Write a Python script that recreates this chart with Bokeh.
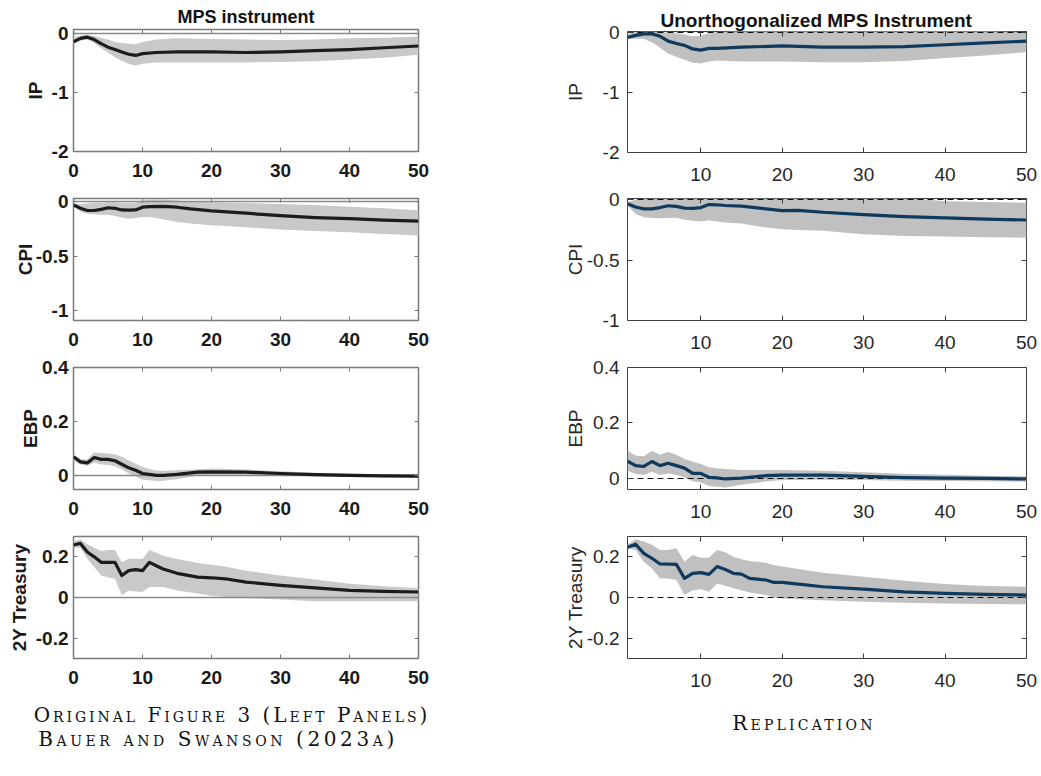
from bokeh.plotting import figure
from bokeh.models import Range1d, LinearAxis, FixedTicker, Div
from bokeh.layouts import column, row
from bokeh.embed import file_html
from bokeh.resources import INLINE

# ---------------- data: left panels (original, horizons 0..50) ----------------
L_IP_h = [0, 1, 2, 3, 4, 5, 6, 7, 8, 9, 10, 12, 15, 20, 25, 30, 35, 40, 45, 50]
L_IP_irf = [-0.14, -0.08, -0.06, -0.10, -0.17, -0.23, -0.27, -0.31, -0.35, -0.37, -0.34, -0.32, -0.31, -0.31, -0.32, -0.31, -0.29, -0.27, -0.24, -0.21]
L_IP_hi = [-0.06, -0.03, -0.02, -0.04, -0.07, -0.10, -0.14, -0.16, -0.17, -0.18, -0.14, -0.10, -0.08, -0.09, -0.10, -0.11, -0.10, -0.08, -0.07, -0.05]
L_IP_lo = [-0.17, -0.12, -0.10, -0.16, -0.25, -0.32, -0.40, -0.46, -0.51, -0.54, -0.51, -0.49, -0.49, -0.49, -0.49, -0.48, -0.47, -0.44, -0.41, -0.36]

L_CPI_h = [0, 1, 2, 3, 4, 5, 6, 7, 8, 9, 10, 11, 13, 15, 17, 20, 25, 30, 35, 40, 45, 50]
L_CPI_irf = [-0.03, -0.06, -0.08, -0.08, -0.07, -0.055, -0.06, -0.075, -0.077, -0.075, -0.05, -0.045, -0.042, -0.05, -0.065, -0.083, -0.105, -0.128, -0.145, -0.155, -0.168, -0.177]
L_CPI_hi = [-0.02, -0.02, -0.015, -0.01, -0.008, -0.005, -0.005, -0.008, -0.01, -0.008, 0.01, 0.02, 0.02, 0.012, 0.0, -0.005, -0.012, -0.02, -0.03, -0.045, -0.06, -0.077]
L_CPI_lo = [-0.04, -0.09, -0.11, -0.115, -0.12, -0.12, -0.13, -0.145, -0.155, -0.15, -0.14, -0.14, -0.16, -0.185, -0.2, -0.215, -0.235, -0.255, -0.268, -0.28, -0.295, -0.31]

L_EBP_h = [0, 1, 2, 3, 4, 5, 6, 7, 8, 9, 10, 11, 12, 13, 15, 18, 20, 25, 30, 35, 40, 45, 50]
L_EBP_irf = [0.071, 0.052, 0.048, 0.068, 0.061, 0.061, 0.056, 0.043, 0.030, 0.021, 0.009, 0.006, 0.002, 0.002, 0.006, 0.014, 0.015, 0.014, 0.009, 0.005, 0.002, 0.0, -0.001]
L_EBP_hi = [0.077, 0.062, 0.062, 0.087, 0.085, 0.083, 0.080, 0.071, 0.058, 0.045, 0.034, 0.026, 0.020, 0.019, 0.021, 0.025, 0.027, 0.024, 0.017, 0.012, 0.009, 0.006, 0.005]
L_EBP_lo = [0.058, 0.042, 0.038, 0.050, 0.042, 0.040, 0.036, 0.025, 0.009, -0.002, -0.014, -0.016, -0.019, -0.018, -0.012, 0.002, 0.004, 0.004, 0.002, -0.001, -0.004, -0.005, -0.006]

L_2Y_h = [0, 1, 2, 3, 4, 5, 6, 7, 8, 9, 10, 11, 12, 13, 15, 18, 20, 22, 25, 30, 35, 40, 45, 50]
L_2Y_irf = [0.258, 0.266, 0.224, 0.200, 0.173, 0.173, 0.173, 0.108, 0.132, 0.137, 0.132, 0.173, 0.156, 0.140, 0.119, 0.100, 0.097, 0.092, 0.076, 0.060, 0.047, 0.035, 0.030, 0.027]
L_2Y_hi = [0.277, 0.285, 0.262, 0.245, 0.229, 0.234, 0.234, 0.173, 0.190, 0.190, 0.189, 0.234, 0.220, 0.205, 0.189, 0.170, 0.161, 0.152, 0.132, 0.108, 0.088, 0.068, 0.055, 0.047]
L_2Y_lo = [0.245, 0.245, 0.190, 0.150, 0.108, 0.100, 0.092, 0.011, 0.035, 0.030, 0.027, 0.052, 0.052, 0.052, 0.035, 0.020, 0.008, 0.003, -0.002, -0.010, -0.018, -0.018, -0.018, -0.018]

# ---------------- data: right panels (replication, horizons 1..50) ----------------
R_IP_h = [1, 2, 3, 4, 5, 6, 7, 8, 9, 10, 11, 12, 15, 20, 25, 30, 35, 40, 45, 50]
R_IP_irf = [-0.09, -0.055, -0.03, -0.03, -0.07, -0.15, -0.19, -0.22, -0.28, -0.30, -0.27, -0.27, -0.25, -0.23, -0.25, -0.25, -0.24, -0.21, -0.18, -0.15]
R_IP_hi = [-0.03, 0.0, 0.01, 0.01, 0.0, -0.01, -0.02, -0.04, -0.07, -0.06, -0.02, 0.0, 0.02, 0.03, 0.03, 0.03, 0.03, 0.03, 0.02, 0.0]
R_IP_lo = [-0.11, -0.11, -0.11, -0.17, -0.26, -0.36, -0.41, -0.46, -0.51, -0.52, -0.49, -0.47, -0.49, -0.49, -0.50, -0.50, -0.48, -0.43, -0.39, -0.33]

R_CPI_h = [1, 2, 3, 4, 5, 6, 7, 8, 9, 10, 11, 12, 13, 15, 18, 20, 22, 25, 30, 35, 38, 40, 45, 50]
R_CPI_irf = [-0.034, -0.06, -0.076, -0.076, -0.065, -0.05, -0.055, -0.07, -0.072, -0.065, -0.04, -0.042, -0.048, -0.053, -0.076, -0.09, -0.088, -0.104, -0.123, -0.14, -0.147, -0.151, -0.16, -0.168]
R_CPI_hi = [-0.02, 0.0, 0.01, 0.01, 0.01, 0.01, 0.01, 0.01, 0.01, 0.01, 0.01, 0.01, 0.01, 0.01, 0.01, 0.01, 0.01, 0.01, 0.01, 0.01, 0.0, -0.012, -0.02, -0.025]
R_CPI_lo = [-0.048, -0.118, -0.146, -0.152, -0.154, -0.152, -0.15, -0.165, -0.175, -0.18, -0.17, -0.18, -0.188, -0.196, -0.23, -0.244, -0.25, -0.258, -0.286, -0.3, -0.303, -0.305, -0.31, -0.314]

R_EBP_h = [1, 2, 3, 4, 5, 6, 7, 8, 9, 10, 11, 12, 13, 15, 18, 20, 25, 30, 35, 40, 45, 50]
R_EBP_irf = [0.062, 0.046, 0.043, 0.061, 0.046, 0.055, 0.046, 0.037, 0.018, 0.018, 0.004, 0.002, -0.002, 0.001, 0.010, 0.012, 0.012, 0.007, 0.003, 0.001, 0.0, -0.002]
R_EBP_hi = [0.100, 0.083, 0.080, 0.100, 0.085, 0.095, 0.085, 0.071, 0.060, 0.052, 0.040, 0.036, 0.034, 0.030, 0.030, 0.030, 0.028, 0.022, 0.017, 0.013, 0.010, 0.007]
R_EBP_lo = [0.028, 0.016, 0.012, 0.024, 0.012, 0.018, 0.012, 0.004, -0.010, -0.015, -0.027, -0.030, -0.033, -0.023, -0.011, -0.006, -0.005, -0.006, -0.008, -0.009, -0.010, -0.011]

R_2Y_h = [1, 2, 3, 4, 5, 6, 7, 8, 9, 10, 11, 12, 13, 14, 15, 16, 18, 19, 20, 22, 25, 30, 35, 40, 45, 50]
R_2Y_irf = [0.247, 0.262, 0.217, 0.193, 0.165, 0.164, 0.163, 0.094, 0.119, 0.122, 0.114, 0.152, 0.138, 0.119, 0.115, 0.094, 0.086, 0.074, 0.074, 0.066, 0.053, 0.041, 0.028, 0.020, 0.015, 0.012]
R_2Y_hi = [0.259, 0.287, 0.275, 0.260, 0.234, 0.234, 0.242, 0.176, 0.209, 0.195, 0.195, 0.234, 0.222, 0.200, 0.188, 0.180, 0.171, 0.158, 0.152, 0.140, 0.122, 0.102, 0.082, 0.066, 0.056, 0.053]
R_2Y_lo = [0.242, 0.234, 0.176, 0.143, 0.094, 0.094, 0.086, 0.012, 0.036, 0.041, 0.028, 0.069, 0.058, 0.045, 0.036, 0.025, 0.012, 0.0, -0.005, -0.008, -0.013, -0.021, -0.026, -0.030, -0.032, -0.033]

# ---------------- axes / labels ----------------
L_XTICKS = [0, 10, 20, 30, 40, 50]
R_XTICKS = [10, 20, 30, 40, 50]
IP_YTICKS, IP_YLABELS = [-2, -1, 0], ["-2", "-1", "0"]
CPI_YTICKS, CPI_YLABELS = [-1, -0.5, 0], ["-1", "-0.5", "0"]
EBP_YTICKS, EBP_YLABELS = [0, 0.2, 0.4], ["0", "0.2", "0.4"]
TY_YTICKS, TY_YLABELS = [-0.2, 0, 0.2], ["-0.2", "0", "0.2"]
VARS = ["IP", "CPI", "EBP", "2Y Treasury"]
LEFT_TITLE = "MPS instrument"
RIGHT_TITLE = "Unorthogonalized MPS Instrument"
CAPTION_LEFT_1 = "Original Figure 3 (Left Panels)"
CAPTION_LEFT_2 = "Bauer and Swanson (2023a)"
CAPTION_RIGHT = "Replication"

FONT = "Liberation Sans"

LEFT = dict(width=438, bl=73, br=20, box="#7a7a7a", box_w=1.5, tick_in=4,
            font_style="bold", tick_color="#1a1a1a", band="#c9c9c9", line="#1c1c1c",
            zero_color="#8a8a8a", zero_dash="solid", zero_w=1.5,
            x_standoff=12, y_standoff=5, xr=(0, 50), xticks=L_XTICKS,
            title_size="18px")
RIGHT = dict(width=603, bl=189, br=15, box="#404040", box_w=1, tick_in=5,
             font_style="normal", tick_color="#262626", band="#c0c0c0", line="#0f3a5e",
             zero_color="#111111", zero_dash="6 4", zero_w=1,
             x_standoff=15, y_standoff=8, xr=(1, 50), xticks=R_XTICKS,
             title_size="19px")


def make_panel(s, h, irf, lo, hi, yr, yticks, ylabels, ylabel, label_standoff,
               btop, fh, bbottom, title=None, title_align="center", title_offset=0, title_standoff=3):
    height = btop + fh + bbottom
    p = figure(width=s["width"], height=height, output_backend="svg",
               toolbar_location=None, tools="",
               x_range=Range1d(*s["xr"]), y_range=Range1d(*yr))
    p.min_border = 0
    p.min_border_left = s["bl"]
    p.min_border_right = s["br"]
    p.min_border_top = btop
    p.min_border_bottom = bbottom
    p.outline_line_color = s["box"]
    p.outline_line_width = s["box_w"]
    p.outline_line_alpha = 1.0
    p.xgrid.visible = False
    p.ygrid.visible = False
    p.background_fill_color = "white"
    p.border_fill_color = "white"

    p.varea(x=h, y1=lo, y2=hi, fill_color=s["band"], fill_alpha=1.0)
    p.hspan(y=[0], line_color=s["zero_color"], line_width=s["zero_w"], line_dash=s["zero_dash"])
    p.line(h, irf, line_color=s["line"], line_width=3.2, line_join="round")

    for ax, ticks, labels, standoff in ((p.xaxis[0], s["xticks"], [str(t) for t in s["xticks"]], s["x_standoff"]),
                                        (p.yaxis[0], yticks, ylabels, s["y_standoff"])):
        ax.ticker = FixedTicker(ticks=ticks)
        ax.major_label_overrides = {t: l for t, l in zip(ticks, labels)}
        ax.major_tick_in = s["tick_in"]
        ax.major_tick_out = 0
        ax.major_tick_line_color = s["box"]
        ax.minor_tick_line_color = None
        ax.axis_line_color = None
        ax.major_label_text_font = FONT
        ax.major_label_text_font_size = "19px"
        ax.major_label_text_font_style = s["font_style"]
        ax.major_label_text_color = s["tick_color"]
        ax.major_label_standoff = standoff

    yax = p.yaxis[0]
    yax.axis_label = ylabel
    yax.axis_label_text_font = FONT
    yax.axis_label_text_font_size = "19px"
    yax.axis_label_text_font_style = s["font_style"]
    yax.axis_label_text_color = s["tick_color"]
    yax.axis_label_standoff = label_standoff

    # mirrored inner ticks on top and right (closed box)
    for loc, ticks in (("above", s["xticks"]), ("right", yticks)):
        ax = LinearAxis(ticker=FixedTicker(ticks=ticks), major_label_text_font_size="1px",
                        major_label_text_color=None, major_label_standoff=0,
                        major_tick_in=s["tick_in"], major_tick_out=0,
                        major_tick_line_color=s["box"], minor_tick_line_color=None,
                        axis_line_color=None)
        p.add_layout(ax, loc)

    if title is not None:
        p.title.text = title
        p.title.align = title_align
        p.title.offset = title_offset
        p.title.standoff = title_standoff
        p.title.text_font = FONT
        p.title.text_font_size = s["title_size"]
        p.title.text_font_style = "bold"
        p.title.text_color = "#111111"
    return p


left = column(
    make_panel(LEFT, L_IP_h, L_IP_irf, L_IP_lo, L_IP_hi, (-2, 0.07), IP_YTICKS, IP_YLABELS, VARS[0], 3,
               29, 122, 33, title=LEFT_TITLE, title_align="center", title_standoff=6),
    make_panel(LEFT, L_CPI_h, L_CPI_irf, L_CPI_lo, L_CPI_hi, (-1.09, 0.03), CPI_YTICKS, CPI_YLABELS, VARS[1], -3,
               14, 122, 33),
    make_panel(LEFT, L_EBP_h, L_EBP_irf, L_EBP_lo, L_EBP_hi, (-0.05, 0.4), EBP_YTICKS, EBP_YLABELS, VARS[2], -2,
               14, 122, 33),
    make_panel(LEFT, L_2Y_h, L_2Y_irf, L_2Y_lo, L_2Y_hi, (-0.3, 0.3), TY_YTICKS, TY_YLABELS, VARS[3], 3,
               14, 122, 33),
)

right = column(
    make_panel(RIGHT, R_IP_h, R_IP_irf, R_IP_lo, R_IP_hi, (-2, 0.01), IP_YTICKS, IP_YLABELS, VARS[0], 14,
               31, 121, 32, title=RIGHT_TITLE, title_align="left", title_offset=33, title_standoff=2),
    make_panel(RIGHT, R_CPI_h, R_CPI_irf, R_CPI_lo, R_CPI_hi, (-1, 0.01), CPI_YTICKS, CPI_YLABELS, VARS[1], -2,
               14, 122, 33),
    make_panel(RIGHT, R_EBP_h, R_EBP_irf, R_EBP_lo, R_EBP_hi, (-0.04, 0.4), EBP_YTICKS, EBP_YLABELS, VARS[2], 4,
               14, 122, 33),
    make_panel(RIGHT, R_2Y_h, R_2Y_irf, R_2Y_lo, R_2Y_hi, (-0.3, 0.3), TY_YTICKS, TY_YLABELS, VARS[3], -2,
               14, 122, 33),
)

CAP_STYLE = ("position:absolute; font-family:'DejaVu Serif'; font-variant:small-caps; "
             "font-size:20px; line-height:20px; color:#111; "
             "text-align:center; white-space:nowrap;")
caption_html = (
    f'<div style="position:relative; width:1041px; height:66px;">'
    f'<div style="{CAP_STYLE} letter-spacing:2.95px; left:7px; top:9px; width:440px;">{CAPTION_LEFT_1}</div>'
    f'<div style="{CAP_STYLE} letter-spacing:3.6px; left:-7px; top:33px; width:440px;">{CAPTION_LEFT_2}</div>'
    f'<div style="{CAP_STYLE} letter-spacing:3.2px; left:649px; top:17px; width:300px;">{CAPTION_RIGHT}</div>'
    f'</div>'
)
captions = Div(text=caption_html, width=1041, height=66)

layout = column(row(left, right), captions)

open("out.html", "w").write(file_html(layout, INLINE))
